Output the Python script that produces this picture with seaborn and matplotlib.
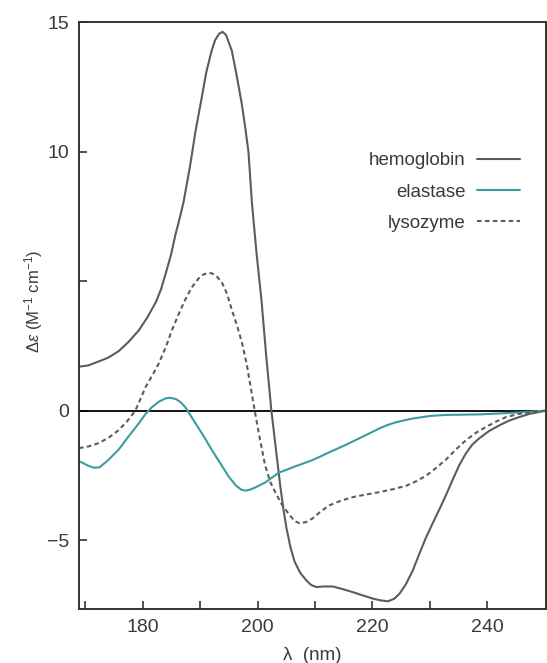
import matplotlib.pyplot as plt
import numpy as np
import pandas as pd
import seaborn as sns

# values
hb_wavelength = [168.9, 170.5, 172.3, 174.0, 175.8, 177.5, 179.3, 180.8, 182.3, 183.2,
                 184.0, 184.9, 185.7, 186.4, 187.1, 188.2, 189.2, 190.2, 191.1, 192.0,
                 192.6, 193.3, 193.9, 194.5, 195.0, 195.5, 196.3, 197.2, 197.8, 198.4,
                 199.0, 199.8, 200.7, 201.5, 202.4, 203.3, 204.0, 204.5, 205.0, 205.7,
                 206.4, 207.4, 208.5, 209.3, 210.2, 211.5, 213.1, 214.8, 216.6, 218.4,
                 220.1, 221.5, 222.7, 223.8, 224.7, 225.8, 227.0, 228.1, 229.3, 230.5,
                 231.7, 232.9, 234.0, 235.1, 236.3, 237.4, 238.6, 240.3, 242.1, 243.8,
                 245.6, 247.3, 249.0, 250.0]
hemoglobin = [1.7, 1.75, 1.9, 2.05, 2.3, 2.65, 3.1, 3.6, 4.2, 4.7,
              5.3, 6.0, 6.8, 7.4, 8.05, 9.4, 10.8, 12.0, 13.1, 13.9,
              14.3, 14.55, 14.62, 14.5, 14.2, 13.9, 13.0, 11.9, 11.0, 10.0,
              8.05, 6.1, 4.2, 2.1, 0.0, -1.7, -3.0, -3.8, -4.5, -5.25,
              -5.8, -6.25, -6.55, -6.72, -6.8, -6.78, -6.78, -6.88, -7.0, -7.13,
              -7.25, -7.32, -7.35, -7.25, -7.06, -6.7, -6.17, -5.55, -4.9, -4.33,
              -3.78, -3.2, -2.64, -2.1, -1.63, -1.3, -1.06, -0.78, -0.56, -0.38,
              -0.24, -0.12, -0.05, 0.0]

el_wavelength = [168.9, 170.5, 171.5, 172.5, 174.0, 175.8, 177.5, 179.3, 180.5, 181.6,
                 182.8, 184.0, 184.8, 185.8, 186.6, 187.4, 188.8, 190.3, 192.0, 193.8,
                 195.0, 196.2, 197.2, 197.9, 198.6, 199.5, 201.3, 203.7, 206.5, 209.6,
                 212.5, 215.4, 218.3, 221.2, 222.6, 224.0, 225.5, 227.0, 230.0, 232.8,
                 238.6, 244.3, 250.0]
elastase = [-1.94, -2.12, -2.2, -2.18, -1.9, -1.5, -1.0, -0.49, -0.12, 0.14,
            0.35, 0.48, 0.5, 0.45, 0.33, 0.14, -0.35, -0.87, -1.5, -2.13,
            -2.55, -2.88, -3.05, -3.08, -3.05, -2.97, -2.77, -2.39, -2.15, -1.9,
            -1.6, -1.31, -1.0, -0.68, -0.55, -0.45, -0.37, -0.3, -0.2, -0.16,
            -0.14, -0.08, 0.0]

ly_wavelength = [168.9, 170.5, 172.3, 174.0, 175.8, 177.3, 178.7, 179.6, 180.5, 181.7,
                 182.8, 184.0, 185.1, 186.3, 187.4, 188.5, 189.7, 190.5, 191.3, 192.1,
                 192.9, 193.8, 194.7, 195.5, 196.4, 197.3, 198.1, 198.8, 199.5, 200.2,
                 201.3, 202.2, 203.2, 204.3, 205.6, 206.4, 207.3, 208.4, 209.6, 211.0,
                 212.5, 214.5, 216.6, 218.9, 221.2, 223.5, 225.9, 227.6, 229.3, 231.0,
                 232.8, 234.5, 236.3, 238.0, 239.8, 241.5, 243.3, 245.5, 247.9, 250.0]
lysozyme = [-1.44, -1.38, -1.25, -1.05, -0.75, -0.4, 0.0, 0.45, 0.92, 1.38,
            1.83, 2.45, 3.12, 3.75, 4.29, 4.75, 5.1, 5.25, 5.32, 5.3,
            5.18, 4.94, 4.5, 3.9, 3.3, 2.6, 1.8, 0.9, 0.0, -0.87,
            -2.1, -2.75, -3.2, -3.65, -4.03, -4.25, -4.34, -4.3, -4.15, -3.88,
            -3.65, -3.47, -3.33, -3.23, -3.14, -3.03, -2.89, -2.72, -2.51, -2.22,
            -1.88, -1.5, -1.13, -0.85, -0.62, -0.42, -0.24, -0.12, -0.05, 0.0]

proteins = ['hemoglobin', 'elastase', 'lysozyme']
x_major = [180, 200, 220, 240]
x_minor = [170, 190, 210, 230]
y_ticks = [-5, 0, 5, 10, 15]
y_labels = ['\u22125', '0', '', '10', '15']

df = pd.concat([
    pd.DataFrame({'wavelength': hb_wavelength, 'de': hemoglobin, 'protein': 'hemoglobin'}),
    pd.DataFrame({'wavelength': el_wavelength, 'de': elastase, 'protein': 'elastase'}),
    pd.DataFrame({'wavelength': ly_wavelength, 'de': lysozyme, 'protein': 'lysozyme'}),
], ignore_index=True)

sns.set_style('white')
plt.rcParams['font.family'] = ['Liberation Sans', 'DejaVu Sans']
plt.rcParams['mathtext.fontset'] = 'custom'
plt.rcParams['mathtext.rm'] = 'Liberation Sans'
plt.rcParams['mathtext.it'] = 'Liberation Sans:italic'

text_color = '#3a3a3a'

fig = plt.figure(figsize=(5.47, 6.63), dpi=100)
ax = fig.add_axes([0.1444, 0.0814, 0.8537, 0.8854])

ax.axhline(0, color='black', linewidth=1.3, zorder=1)

sns.lineplot(
    data=df,
    x='wavelength',
    y='de',
    hue='protein',
    style='protein',
    hue_order=proteins,
    style_order=proteins,
    palette={'hemoglobin': '#5c5c5c', 'elastase': '#3a9c9e', 'lysozyme': '#5c5c5c'},
    dashes={'hemoglobin': '', 'elastase': '', 'lysozyme': (2.2, 1.6)},
    sort=False,
    estimator=None,
    linewidth=1.5,
    ax=ax,
    zorder=2
)

ax.set_xlim(168.9, 250.2)
ax.set_ylim(-7.65, 15)

ax.set_xticks(x_major)
ax.set_xticks(x_minor, minor=True)
ax.set_yticks(y_ticks)
ax.set_yticklabels(y_labels)
ax.tick_params(which='both', bottom=True, left=True, direction='in', length=6, width=1.1,
               color='#222222', labelsize=14, labelcolor=text_color)
ax.tick_params(axis='x', pad=7)
ax.tick_params(axis='y', pad=7)

ax.set_xlabel('\u03bb  (nm)', fontsize=13.5, color=text_color)
ax.xaxis.set_label_coords(0.5, -0.064)
ax.set_ylabel(r'$\Delta\mathit{\varepsilon}$ (M$^{-1}$ cm$^{-1}$)', fontsize=12, color=text_color)
ax.yaxis.set_label_coords(-0.072, 0.525)

for spine in ax.spines.values():
    spine.set_visible(True)
    spine.set_color('#333333')
    spine.set_linewidth(1.4)

handles, labels = ax.get_legend_handles_labels()
leg = ax.legend(
    handles, labels,
    markerfirst=False,
    frameon=False,
    loc='upper right',
    bbox_to_anchor=(0.945, 0.778),
    borderaxespad=0,
    borderpad=0,
    handlelength=2.3,
    handletextpad=0.6,
    labelspacing=0.75,
    fontsize=13.5,
    alignment='right'
)
for t in leg.get_texts():
    t.set_color(text_color)

plt.savefig('out.png', dpi=100)
